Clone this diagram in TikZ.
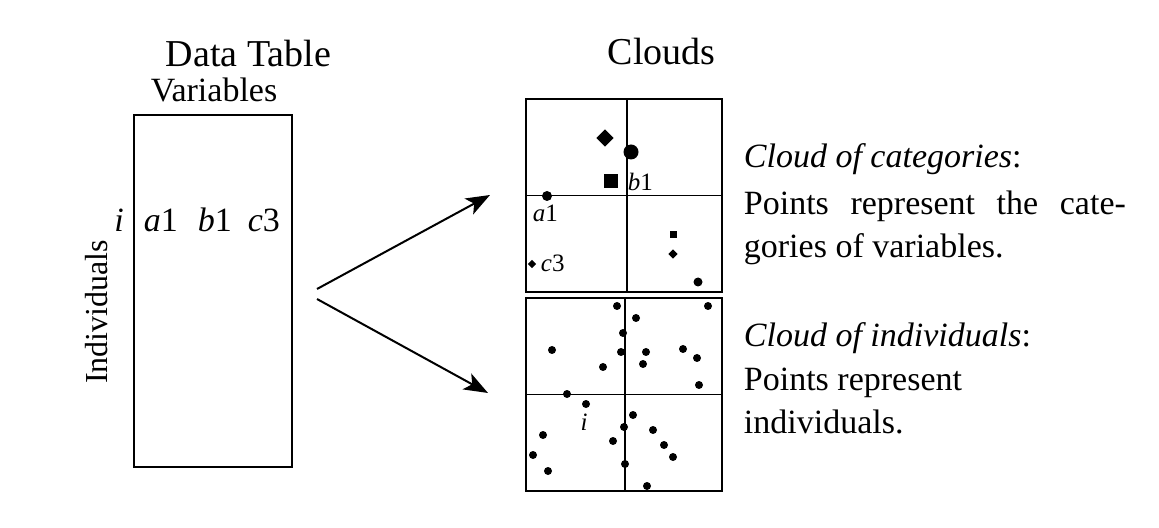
\documentclass[tikz,border=0pt]{standalone}
\usepackage{fontspec}
\setmainfont{Liberation Serif}
\usetikzlibrary{arrows.meta,shapes.geometric,positioning}

\newcommand{\hdrfont}{\fontsize{19}{23}\selectfont}
\newcommand{\txtfont}{\fontsize{17}{22}\selectfont}
\newcommand{\lblfont}{\fontsize{12.5}{15}\selectfont}

\begin{document}
\begin{tikzpicture}[x=0.5pt,y=-0.5pt,line width=0.9pt,
    >={Stealth[length=12pt,width=9pt,inset=3pt]},
    txt/.style={inner sep=0pt,anchor=base west,font=\txtfont},
    lbl/.style={inner sep=0pt,anchor=base west,font=\lblfont},
    catbox/.style={draw,rectangle,inner sep=0pt,minimum width=98pt,minimum height=96.5pt},
    indpt/.style={circle,fill,inner sep=0pt,minimum size=4pt},
    catpt/.style={circle,fill,inner sep=0pt,minimum size=#1},
    catsq/.style={rectangle,fill,inner sep=0pt,minimum size=#1},
    catdm/.style={diamond,fill,inner sep=0pt,minimum size=#1}]
  \useasboundingbox (0,0) rectangle (1159,528);
  %% data table
  \node (title) [inner sep=0pt,anchor=base west,font=\hdrfont] at (165,67) {Data Table};
  \node (vars) [inner sep=0pt,anchor=base,font=\txtfont] at (214,102) {Variables};
  \node (table) [draw,rectangle,inner sep=0pt,minimum width=79pt,minimum height=176pt] at (213,291) {};
  \node (irow) [inner sep=0pt,anchor=base,font=\txtfont\itshape] at (119,232) {i};
  \node (a1) [txt] at (143,232) {\textit{a}1};
  \node (b1) [txt] at (197,232) {\textit{b}1};
  \node (c3) [txt] at (247,232) {\textit{c}3};
  \node (indiv) [inner sep=0pt,anchor=base,rotate=90,font=\fontsize{16}{20}\selectfont] at (107,312) {Individuals};

  %% clouds
  \node (clouds) [inner sep=0pt,anchor=base west,font=\hdrfont] at (607,65) {Clouds};
  \node (cat) [catbox] at (624,195.5) {};
  \node (ind) [catbox] at (624,394.5) {};
  \draw ([xshift=1.5pt]cat.north) -- ([xshift=1.5pt]cat.south)
        (cat.west) -- (cat.east);
  \draw ([xshift=0.5pt]ind.north) -- ([xshift=0.5pt]ind.south)
        (ind.west) -- (ind.east);

  % cloud of categories
  \node (m1) [catdm=9pt] at (605,138) {};
  \node (m2) [catpt=7.5pt] at (631,152) {};
  \node (m3) [catsq=7pt] at (611,181) {};
  \node (m4) [catpt=5pt] at (547,196) {};
  \node (m5) [catdm=4.5pt] at (532,264) {};
  \node (m6) [catsq=3.5pt] at (673,235) {};
  \node (m7) [catdm=5pt] at (673,254) {};
  \node (m8) [catpt=4.5pt] at (698,282) {};
  \node (lb1) [lbl] at (627,191) {\textit{b}1};
  \node (la1) [lbl] at (532,222) {\textit{a}1};
  \node (lc3) [lbl] at (540,272) {\textit{c}3};

  % cloud of individuals
  \foreach \px/\py [count=\k] in {617/306, 636/318, 708/306, 623/333, 552/350,
      621/352, 646/352, 683/349, 697/358, 643/364, 603/367, 699/385, 567/394,
      586/404, 633/415, 624/427, 543/435, 653/430, 613/441, 664/445, 533/455,
      673/457, 548/471, 625/464, 647/486}
    \node (p\k) [indpt] at (\px,\py) {};
  \node (li) [lbl,anchor=base,font=\lblfont\itshape] at (584,430) {i};

  %% arrows
  \coordinate (fa) at (317,289);
  \coordinate (fb) at (317,299);
  \coordinate (ta) at (490,195);
  \coordinate (tb) at (488,393);
  \draw [->,line width=1pt] (fa) -- (ta);
  \draw [->,line width=1pt] (fb) -- (tb);

  %% captions
  \node (c1) [txt] at (743,168) {\textit{Cloud of categories}:};
  \node (c2) [txt] at (743,215) {\makebox[191pt][s]{Points represent the cate-}};
  \node (c3) [txt] at (743,258) {gories of variables.};
  \node (d1) [txt] at (743,347) {\textit{Cloud of individuals}:};
  \node (d2) [txt] at (743,390) {Points represent};
  \node (d3) [txt] at (743,433) {individuals.};
\end{tikzpicture}
\end{document}
